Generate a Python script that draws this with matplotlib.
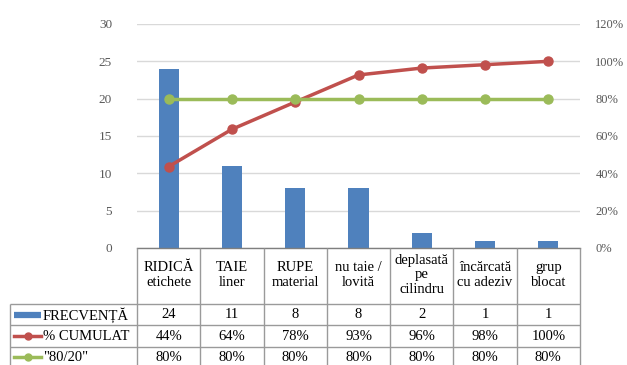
import matplotlib
matplotlib.use("Agg")
import matplotlib.pyplot as plt
from matplotlib.ticker import FuncFormatter, MultipleLocator

# Pareto data
categories = ["RIDICĂ\netichete", "TAIE\nliner", "RUPE\nmaterial", "nu taie /\nlovită",
              "deplasată\npe\ncilindru", "încărcată\ncu adeziv", "grup\nblocat"]
frecventa = [24, 11, 8, 8, 2, 1, 1]
cumulat = [43.6, 63.6, 78.2, 92.7, 96.4, 98.2, 100.0]
prag = [80, 80, 80, 80, 80, 80, 80]
series_names = ["FRECVENȚĂ", "% CUMULAT", "\"80/20\""]

BLUE = "#4f81bd"
RED = "#c0504d"
GREEN = "#9bbb59"
GRID = "#d9d9d9"
TICK = "#595959"
BORDER = "#9a9a9a"
FONT = "Liberation Serif"

plt.rcParams["font.family"] = [FONT, "DejaVu Serif"]

W, H = 627, 365
fig = plt.figure(figsize=(W / 100, H / 100), dpi=100)

# plot area in pixel units
L, R, T, B = 137, 580, 24, 248
ax = fig.add_axes([L / W, 1 - B / H, (R - L) / W, (B - T) / H])
x = list(range(len(categories)))
ax.set_xlim(-0.5, len(categories) - 0.5)
ax.set_ylim(0, 30)
ax.yaxis.set_major_locator(MultipleLocator(5))
ax.grid(axis="y", color=GRID, lw=1)
ax.set_axisbelow(True)
ax.bar(x, frecventa, width=0.32, color=BLUE, zorder=2)
ax.set_xticks([])
for s in ax.spines.values():
    s.set_visible(False)
ax.tick_params(axis="y", length=0, pad=18, labelsize=9.5, labelcolor=TICK)

ax2 = ax.twinx()
ax2.set_ylim(0, 120)
ax2.yaxis.set_major_locator(MultipleLocator(20))
ax2.yaxis.set_major_formatter(FuncFormatter(lambda v, p: f"{v:.0f}%"))
ax2.tick_params(axis="y", length=0, pad=11, labelsize=9, labelcolor=TICK)
for s in ax2.spines.values():
    s.set_visible(False)
ax2.plot(x, cumulat, color=RED, lw=2.5, marker="o", ms=6.5, zorder=3)
ax2.plot(x, prag, color=GREEN, lw=2.5, marker="o", ms=6.5, zorder=3)

# data table below the plot area, y in pixels from the top
tab = fig.add_axes([L / W, 0, (R - L) / W, (H - B) / H])
tab.set_xlim(-0.5, len(categories) - 0.5)
tab.set_ylim(H, B)
tab.axis("off")

def px2x(px):
    return -0.5 + (px - L) * len(categories) / (R - L)

row_lines = [304, 325.5, 347]
x_left = px2x(10)
kw = dict(color=BORDER, lw=1, clip_on=False, solid_capstyle="butt")
# top border of the category header
tab.plot([-0.5, len(categories) - 0.5], [B, B], color="#7f7f7f", lw=1, clip_on=False)
for yl in row_lines:
    tab.plot([x_left, len(categories) - 0.5], [yl, yl], **kw)
for i in range(len(categories) + 1):
    tab.plot([i - 0.5, i - 0.5], [B, H + 5], **kw)
tab.plot([x_left, x_left], [row_lines[0], H + 5], **kw)

txt = dict(ha="center", va="center", fontsize=10.5, color="black", clip_on=False)
for i, c in enumerate(categories):
    tab.text(i, (B + row_lines[0]) / 2 - 1, c, linespacing=1.15, **txt)
    tab.text(i, 315, f"{frecventa[i]}", **txt)
    tab.text(i, 336.5, f"{cumulat[i]:.0f}%", **txt)
    tab.text(i, 357.5, f"{prag[i]:.0f}%", **txt)

# row headers with legend keys
k0, k1 = px2x(14), px2x(41)
tab.plot([k0, k1], [315, 315], color=BLUE, lw=4.5, solid_capstyle="butt", clip_on=False)
tab.plot([k0, k1], [336.5, 336.5], color=RED, lw=2.5, clip_on=False)
tab.plot([(k0 + k1) / 2], [336.5], "o", color=RED, ms=5, clip_on=False)
tab.plot([k0, k1], [357.5, 357.5], color=GREEN, lw=2.5, clip_on=False)
tab.plot([(k0 + k1) / 2], [357.5], "o", color=GREEN, ms=5, clip_on=False)
for yy, name in zip([315, 336.5, 357.5], series_names):
    tab.text(px2x(43), yy, name, ha="left", va="center", fontsize=10.5,
             color="black", clip_on=False)

fig.savefig("out.png", dpi=100)
